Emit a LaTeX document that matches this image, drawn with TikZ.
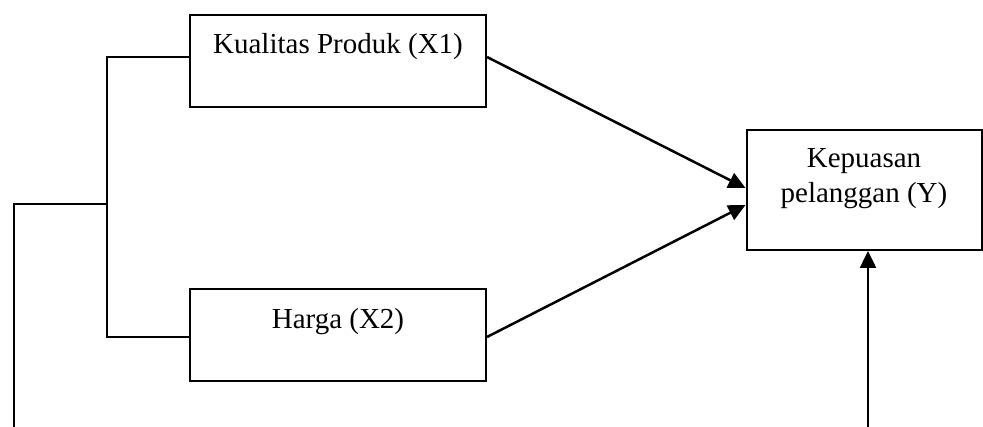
\documentclass[tikz,border=0pt]{standalone}
\usepackage{fontspec}
\setmainfont{Liberation Serif}
\usepackage{tikz}
\usetikzlibrary{arrows.meta}

\begin{document}
\begin{tikzpicture}[x=1pt,y=-1pt,
	varbox/.style={draw,line width=2pt,rectangle,inner sep=0pt,align=center,
		font=\fontsize{29}{35}\selectfont},
	link/.style={line width=2pt},
	pijl/.style={line width=2.5pt,-{Triangle[length=17pt,width=16pt]}}]
	\useasboundingbox (0,0) rectangle (983,427);

	% variabelen
	\node[varbox,anchor=north,minimum width=296pt,text height=39pt,text depth=53pt] at (338,14) (x1) {Kualitas Produk (X1)};
	\node[varbox,anchor=north,minimum width=296pt,text height=40pt,text depth=52pt] at (338,288) (x2) {Harga (X2)};
	\node[varbox,anchor=north,minimum width=235pt,text height=73pt,text depth=47pt] at (864,129) (y) {Kepuasan\\pelanggan (Y)};

	\coordinate (brk) at (107,204);
	\coordinate (lbot) at (14,427);
	\coordinate (ybot) at (868,427);

	% haak links
	\draw[link] ([yshift=4pt]x1.west) -| (brk) |- ([yshift=-2pt]x2.west);
	\draw[link] (lbot) |- (brk);

	% pijlen naar Y
	\draw[pijl] ([yshift=4pt]x1.east) -- ([yshift=2pt]y.west);
	\draw[pijl] ([yshift=-2pt]x2.east) -- ([yshift=-15pt]y.west);
	\draw[pijl] (ybot) -- (ybot |- y.south);
\end{tikzpicture}
\end{document}
